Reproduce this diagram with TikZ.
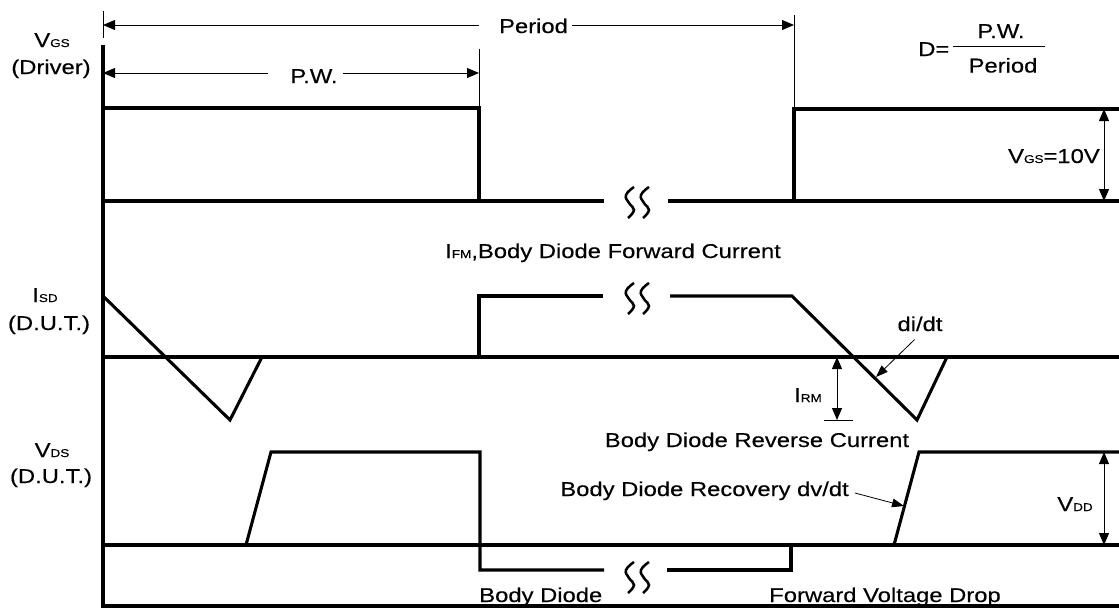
\documentclass[tikz,border=0pt]{standalone}
\usepackage{fontspec}
\setmainfont[FakeStretch=1.19, FakeBold=0.3]{Liberation Sans}
\usetikzlibrary{arrows.meta}
\newcommand{\sbs}[1]{{\fontsize{8.5}{9}\selectfont #1}}

\begin{document}
\begin{tikzpicture}[x=0.75pt, y=-0.75pt,
        wave/.style={line width=2.3pt},
        dimline/.style={line width=0.7pt},
        dimarrow/.style={dimline, -{Triangle[length=9pt,width=7.5pt]}},
        dimboth/.style={dimline, {Triangle[length=9pt,width=7.5pt]}-{Triangle[length=9pt,width=7.5pt]}},
        ptr/.style={line width=0.6pt, -{Triangle[length=9pt,width=6.5pt]}},
        txt/.style={inner sep=0pt, anchor=base, font=\fontsize{15}{18}\selectfont},
        wavebreak/.pic={
            \draw[line width=1.9pt] plot[smooth, tension=0.8] coordinates {(-2,-15) (-10,-7) (-7,1) (-2,8) (-8,16)};
            \draw[line width=1.9pt] plot[smooth, tension=0.8] coordinates {(13,-15) (5,-7) (8,1) (13,8) (7,16)};
        }]
        \useasboundingbox (0,0) rectangle (1119,608);

        % Axes
        \draw[wave] (103,45) -- (103,606) -- (1119,606);

        % Labels on the left
        \node[txt] (vgsLbl) at (52,47) {V\sbs{GS}};
        \node[txt] (driverLbl) at (51,74) {(Driver)};
        \node[txt] (isdLbl) at (45,302) {I\sbs{SD}};
        \node[txt] (dutA) at (49,330) {(D.U.T.)};
        \node[txt] (vdsLbl) at (52,457) {V\sbs{DS}};
        \node[txt] (dutB) at (51,483) {(D.U.T.)};

        % V_GS
        \draw[wave] (103,201) -- (604,201);
        \draw[wave] (668,201) -- (1119,201);
        \draw[wave] (103,108) -- (479,108) -- (479,201);
        \draw[wave] (794,201) -- (794,109) -- (1119,109);
        \pic at (636,202) {wavebreak};

        % Period and P.W.
        \coordinate (perL) at (103,25);
        \coordinate (perR) at (794,25);
        \coordinate (perGapL) at (479,25);
        \coordinate (perGapR) at (572,25);
        \node[txt] (period) at (533.5,33) {Period};
        \draw[dimline] (103,11) -- (103,38);
        \draw[dimline] (794,15) -- (794,109);
        \draw[dimarrow] (perGapL) -- (perL);
        \draw[dimarrow] (perGapR) -- (perR);

        \coordinate (pwL) at (103,73);
        \coordinate (pwR) at (479,73);
        \coordinate (pwGapL) at (268,73);
        \coordinate (pwGapR) at (343,73);
        \node[txt] (pw) at (314,83) {P.W.};
        \draw[dimline] (479,49) -- (479,108);
        \draw[dimarrow] (pwGapL) -- (pwL);
        \draw[dimarrow] (pwGapR) -- (pwR);

        % Duty cycle
        \node[txt, anchor=base west] (dEq) at (918,56) {D=};
        \node[txt] (dNum) at (1001,38) {P.W.};
        \node[txt] (dDen) at (1003,72.5) {Period};
        \draw[dimline] (953,46) -- (1045,46);

        % V_GS amplitude
        \coordinate (vgsTop) at (1104,109);
        \coordinate (vgsBot) at (1104,201);
        \draw[dimboth] (vgsTop) -- (vgsBot);
        \node[txt, anchor=base east] (vgsTen) at (1100,163) {V\sbs{GS}=10V};

        % I_SD
        \node[txt, anchor=base west] (ifm) at (445,258) {I\sbs{FM},Body Diode Forward Current};
        \draw[wave] (103,357) -- (1119,357);
        \draw[wave] (103,296) -- (230,420) -- (262,357);
        \draw[wave] (479,357) -- (479,296) -- (603,296);
        \draw[wave] (670,296) -- (792,296) -- (917,420) -- (947,357);
        \pic at (636,298) {wavebreak};

        \node[txt] (didt) at (920,331) {di/dt};
        \coordinate (didtTo) at (876,377);
        \draw[ptr] ([xshift=-4pt,yshift=-6pt]didt.south) -- (didtTo);

        \coordinate (irmTop) at (837,357);
        \coordinate (irmBot) at (837,420);
        \draw[dimboth] (irmTop) -- (irmBot);
        \draw[dimline] (824,420) -- (853,420);
        \node[txt] (irm) at (808,402) {I\sbs{RM}};
        \node[txt] (revCur) at (757,447) {Body Diode Reverse Current};

        % V_DS
        \draw[wave] (103,545) -- (1119,545);
        \draw[wave] (246,545) -- (271,452) -- (480,452) -- (480,570) -- (604,570);
        \draw[wave] (667,570) -- (791,570) -- (791,545);
        \draw[wave] (894,545) -- (919,452) -- (1119,452);
        \pic at (636,577) {wavebreak};

        \node[txt, anchor=base east] (dvdt) at (849,496) {Body Diode Recovery dv/dt};
        \coordinate (dvdtTo) at (904,506);
        \draw[ptr] ([xshift=4.5pt,yshift=2.25pt]dvdt.base east) -- (dvdtTo);

        \coordinate (vddTop) at (1104,452);
        \coordinate (vddBot) at (1104,545);
        \draw[dimboth] (vddTop) -- (vddBot);
        \node[txt] (vdd) at (1075,511) {V\sbs{DD}};

        \node[txt, anchor=base west] (bodyDiode) at (479,602) {Body Diode};
        \node[txt, anchor=base west] (fwdDrop) at (769,602) {Forward Voltage Drop};
    \end{tikzpicture}
\end{document}
